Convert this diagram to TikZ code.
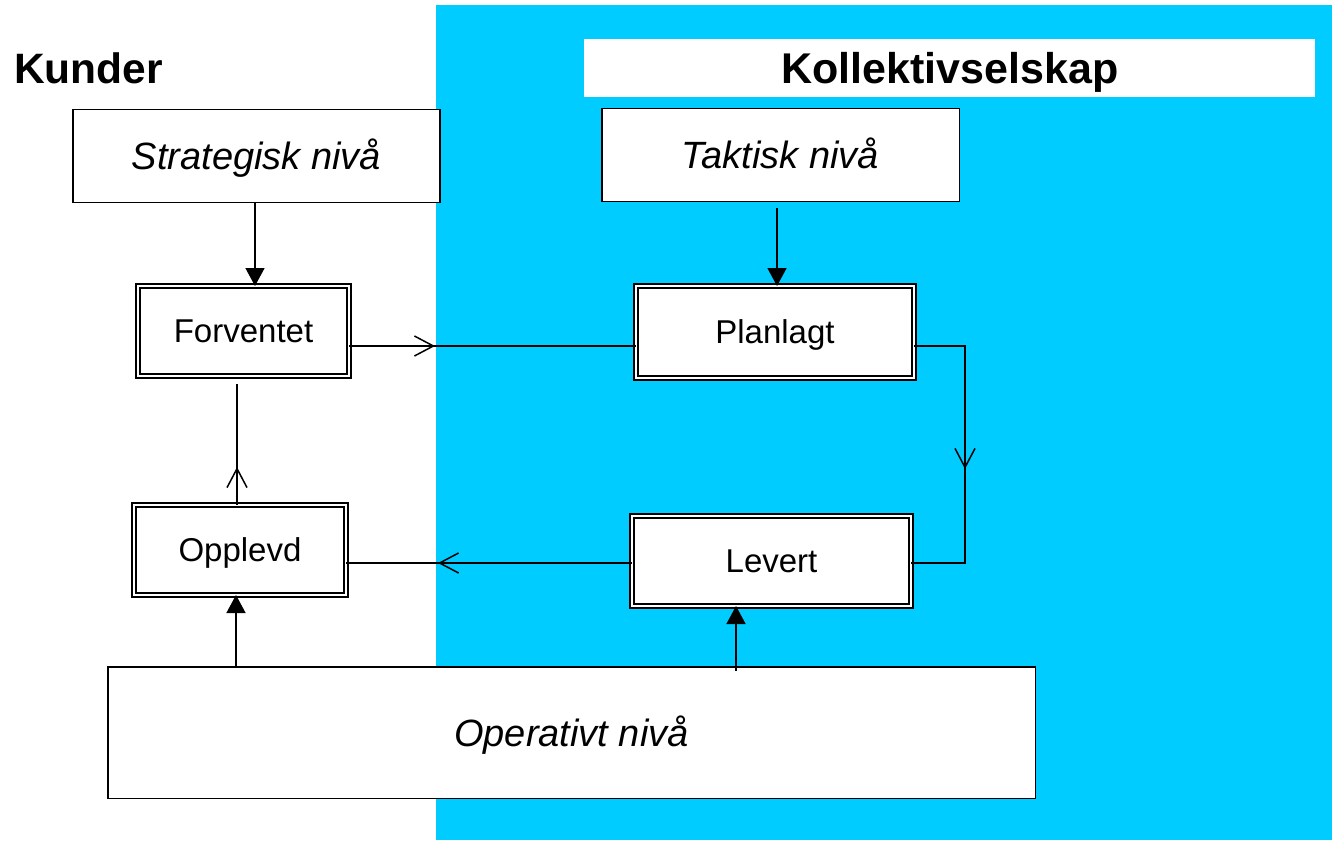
\documentclass[tikz,border=0pt]{standalone}
\usepackage{fontspec}
\setmainfont{Liberation Sans}
\usetikzlibrary{arrows.meta,decorations.markings}
\definecolor{skyblue}{RGB}{0,204,255}
\begin{document}
\begin{tikzpicture}[x=1pt,y=-1pt,
  plainbox/.style={draw=black, fill=white, line width=1.5pt, inner sep=0pt, outer sep=0pt,
    font=\fontsize{38}{44}\selectfont\itshape, text height=27.2pt, text depth=0pt},
  dblbox/.style={draw=black, fill=white, double=white, line width=2pt, double distance=2pt,
    inner sep=0pt, outer sep=0pt, font=\fontsize{33}{38}\selectfont, text height=23.6pt, text depth=0pt},
  conn/.style={line width=1.5pt, draw=black},
  solidtip/.style={-{Triangle[width=19pt,length=18pt]}},
  midbarb/.style={postaction={decorate}, decoration={markings,
    mark=at position #1 with {\arrow{Straight Barb[width=20pt,length=19pt,line width=1.5pt]}}}}
]
\useasboundingbox (0,0) rectangle (1332,840);
\fill[white] (0,0) rectangle (1332,840);
\fill[skyblue] (436,5) rectangle (1332,840);
\fill[white] (584,39) rectangle (1315,97);

\node[anchor=base west, font=\fontsize{42.5}{48}\selectfont\bfseries, inner sep=0pt] (kunder) at (14,84) {Kunder};
\node[anchor=base, font=\fontsize{43}{48}\selectfont\bfseries, inner sep=0pt] (kollektiv) at (950,84) {Kollektivselskap};

\node[plainbox, minimum width=367pt, minimum height=92.5pt] (strat) at (256.5,156) {Strategisk nivå};
\node[plainbox, minimum width=357.5pt, minimum height=92.5pt] (takt) at (780.5,155) {Taktisk nivå};
\node[plainbox, minimum width=927.5pt, minimum height=131.5pt] (oper) at (571.5,732.5) {Operativt nivå};

\node[dblbox, minimum width=211pt, minimum height=90pt] (forv) at (243.5,331) {Forventet};
\node[dblbox, minimum width=278pt, minimum height=92pt] (plan) at (775,332) {Planlagt};
\node[dblbox, minimum width=212pt, minimum height=90pt] (oppl) at (240,550) {Opplevd};
\node[dblbox, minimum width=279pt, minimum height=90pt] (lev) at (771.5,561) {Levert};

\coordinate (c1) at (965,346);
\coordinate (c2) at (965,563);

% vertical solid-tip arrows
\draw[conn, solidtip] ([xshift=-1.5pt]strat.south) -- ([xshift=-1.5pt]strat.south |- forv.north);
\draw[conn, solidtip, shorten <=7pt] ([xshift=-3.5pt]takt.south) -- ([xshift=-3.5pt]takt.south |- plan.north);
\draw[conn, solidtip] (oppl.south |- oper.north) ++(-4pt,0) -- ([xshift=-4pt]oppl.south);
\draw[conn, solidtip, shorten <=-4pt] ([xshift=-35.5pt]lev.south |- oper.north) -- ([xshift=-35.5pt]lev.south);

% open mid-arrow connectors
\draw[conn, midbarb=86pt] ([yshift=-15pt]forv.east) -- ([yshift=-15pt]forv.east -| plan.west);
\draw[conn, midbarb=174pt] ([yshift=-14pt]plan.east) -- (c1) -- (c2) -- (c2 -| lev.east);
\draw[conn, midbarb=194pt] ([yshift=-2pt]lev.west) -- ([yshift=-2pt]lev.west -| oppl.east);
\draw[conn, midbarb=38pt, shorten >=8pt] ([xshift=-3pt]oppl.north) -- ([xshift=-3pt]oppl.north |- forv.south);
\end{tikzpicture}
\end{document}
